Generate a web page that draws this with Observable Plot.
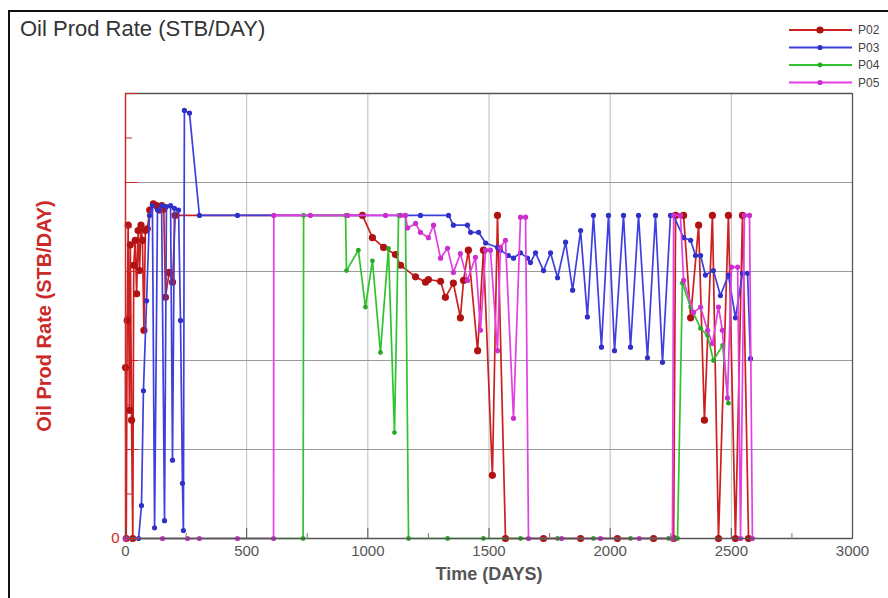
<!DOCTYPE html>
<html><head><meta charset="utf-8">
<script src="https://cdn.jsdelivr.net/npm/d3@7"></script>
<script src="https://cdn.jsdelivr.net/npm/@observablehq/plot@0.6"></script>
<style>
body{margin:0;background:#fff;font-family:"Liberation Sans",Arial,sans-serif;}
#page{position:relative;width:888px;height:598px;overflow:hidden;background:#fff;}
#border{position:absolute;left:8px;top:10px;width:900px;height:620px;border-left:2px solid #111;border-top:2px solid #111;pointer-events:none;}
#header{position:relative;height:90px;}
#title{position:absolute;left:20px;top:18px;font-size:22px;line-height:22px;color:#333;white-space:nowrap;}
#legend{position:absolute;left:780px;top:19px;}
</style></head>
<body><div id="page"><div id="border"></div><div id="header"><div id="title">Oil Prod Rate (STB/DAY)</div><svg id="legend" width="108" height="72"></svg></div><div id="chart"></div></div>
<script>
// ---- data (Time in DAYS, Oil Prod Rate in STB/DAY) ----
const wellNames = ["P02", "P03", "P04", "P05"];

const p02Days  = [0,3,7,11,16,20,25,30,34,40,46,52,58,64,70,76,82,90,100,115,128,140,150,158,165,180,194,205,978,1019,1065,1114,1135,1197,1238,1250,1300,1320,1353,1382,1395,1415,1453,1477,1514,1535,1568,1725,1878,2030,2179,2262,2270,2303,2332,2365,2389,2422,2447,2488,2517,2546,2571];
const p02Rates = [1920,0,2450,3520,1440,3300,1330,0,3070,3350,2750,3460,3010,3520,3350,2340,3460,3480,3690,3760,3740,3690,3740,3700,2710,2990,2880,3630,3630,3380,3270,3190,3070,2940,2880,2910,2890,2710,2870,2480,2900,3240,2110,3240,710,3630,0,0,0,0,0,0,3630,3630,2480,3520,1330,3630,0,3630,0,3630,0];

const p03Days  = [0,54,66,74,87,99,111,120,132,149,161,169,186,194,202,219,227,235,239,243,264,305,462,1217,1333,1353,1411,1424,1457,1486,1535,1547,1580,1601,1630,1659,1671,1692,1725,1754,1783,1816,1845,1878,1906,1931,1964,1993,2018,2055,2084,2117,2154,2187,2216,2249,2261,2303,2332,2352,2373,2393,2426,2455,2488,2517,2546,2567,2579];
const p03Rates = [0,0,370,1660,2670,3630,3740,120,3690,3740,200,3730,3740,880,3710,3690,2450,620,90,4810,4780,3630,3630,3630,3630,3520,3520,3440,3440,3320,3270,3240,3180,3150,3210,3150,3100,3210,3010,3210,2930,3330,2790,3460,2490,3630,2150,3630,2110,3630,2150,3630,2030,3630,1980,3630,3630,3380,3350,3180,3180,2960,3010,2730,2960,2480,2980,2980,2020];

const p04Days  = [0,733,735,908,912,961,990,1019,1052,1085,1110,1127,1155,1168,1329,1477,1630,1783,1931,2084,2241,2278,2298,2332,2373,2402,2426,2464,2488];
const p04Rates = [0,0,3630,3630,3010,3240,2600,3120,2090,3260,1190,3630,3630,0,0,0,0,0,0,0,0,0,2870,2600,2360,2280,2000,2170,1520];

const p05Days  = [0,153,256,305,462,611,612,763,916,1073,1135,1155,1164,1197,1217,1250,1271,1300,1329,1353,1382,1411,1444,1465,1486,1506,1535,1547,1568,1601,1630,1651,1663,1800,1960,2120,2257,2262,2290,2303,2344,2373,2402,2422,2447,2463,2484,2501,2526,2538,2554,2575,2587];
const p05Rates = [0,0,0,0,0,0,3630,3630,3630,3630,3630,3630,3490,3540,3440,3380,3520,3150,3260,2990,3200,2900,3160,2340,3240,3240,2110,3270,3350,1350,3610,3610,0,0,0,0,0,3630,3630,2900,2540,2600,2340,2190,2600,2340,1580,3050,3050,0,3630,3630,0];

const xTickLabels = [0, 500, 1000, 1500, 2000, 2500, 3000];
const xMinorTicks = [250, 750, 1250, 1750, 2250, 2750];
const yMajorTicks = [0, 1000, 2000, 3000, 4000, 5000];
const yMinorTicks = [500, 1500, 2500, 3500, 4500];
const yTickLabels = [0];
const titleText = "Oil Prod Rate (STB/DAY)";
const xLabelText = "Time (DAYS)";
const yLabelText = "Oil Prod Rate (STB/DAY)";

// ---- styles ----
const wellColors = {P02: "#cc1f1f", P03: "#3f3fe0", P04: "#2fc42f", P05: "#e43fe4"};
const wellDotColors = {P02: "#b01212", P03: "#3030c8", P04: "#22aa22", P05: "#cc30cc"};
const wellDotR = {P02: 3.6, P03: 2.6, P04: 2.4, P05: 2.6};
const axisRed = "#cc2a2a";

const seriesData = {
  P02: p02Days.map((d, i) => ({well: "P02", day: d, rate: p02Rates[i]})),
  P03: p03Days.map((d, i) => ({well: "P03", day: d, rate: p03Rates[i]})),
  P04: p04Days.map((d, i) => ({well: "P04", day: d, rate: p04Rates[i]})),
  P05: p05Days.map((d, i) => ({well: "P05", day: d, rate: p05Rates[i]}))
};

const tickShape = {draw(context, l) { context.moveTo(0, 0); context.lineTo(0, -l); }};

const seriesMarks = wellNames.flatMap(w => [
  Plot.line(seriesData[w], {x: "day", y: "rate", stroke: wellColors[w], strokeWidth: 1.7}),
  Plot.dot(seriesData[w], {x: "day", y: "rate", r: wellDotR[w], fill: wellDotColors[w], stroke: "none"})
]);

const chart = Plot.plot({
  width: 888, height: 508,
  marginTop: 3, marginBottom: 60, marginLeft: 125, marginRight: 36,
  x: {domain: [0, 3000]},
  y: {domain: [0, 5000]},
  style: {fontFamily: "'Liberation Sans', Arial, sans-serif", background: "transparent", overflow: "visible"},
  marks: [
    Plot.ruleX(xTickLabels.slice(1, -1), {stroke: "#bdbdbd", strokeWidth: 1}),
    Plot.ruleY(yMajorTicks.slice(1, -1), {stroke: "#9a9a9a", strokeWidth: 1}),
    Plot.ruleY([yMajorTicks[yMajorTicks.length - 1]], {stroke: "#555", strokeWidth: 1.3}),
    Plot.ruleX([xTickLabels[xTickLabels.length - 1]], {stroke: "#555", strokeWidth: 1.3}),
    ...seriesMarks,
    Plot.ruleY([0], {stroke: "#555", strokeWidth: 1.6}),
    Plot.ruleX([0], {stroke: axisRed, strokeWidth: 1.5}),
    Plot.vector(yMajorTicks, {x: () => 0, y: d => d, length: 12, rotate: 90, anchor: "start", shape: tickShape, stroke: axisRed, strokeWidth: 1}),
    Plot.vector(yMinorTicks, {x: () => 0, y: d => d, length: 6, rotate: 90, anchor: "start", shape: tickShape, stroke: axisRed, strokeWidth: 1}),
    Plot.vector(xTickLabels, {x: d => d, y: () => 0, length: 10, rotate: 0, anchor: "start", shape: tickShape, stroke: "#555", strokeWidth: 1}),
    Plot.vector(xMinorTicks, {x: d => d, y: () => 0, length: 5, rotate: 0, anchor: "start", shape: tickShape, stroke: "#777", strokeWidth: 1}),
    Plot.axisX({ticks: xTickLabels, tickSize: 0, tickPadding: 7, fontSize: 15, color: "#555", label: null, tickFormat: d => String(d)}),
    Plot.axisY({ticks: yTickLabels, tickSize: 0, tickPadding: 6, fontSize: 15, color: axisRed, label: null, tickFormat: d => String(d)}),
    Plot.text([xLabelText], {frameAnchor: "bottom", dy: 41, fontSize: 18, fontWeight: "bold", fill: "#555"}),
    Plot.text([yLabelText], {frameAnchor: "left", dx: -81, rotate: -90, textAnchor: "middle", fontSize: 20, fontWeight: "bold", fill: axisRed})
  ]
});
document.getElementById("chart").appendChild(chart);
document.getElementById("title").textContent = titleText;

// ---- legend ----
const leg = d3.select("#legend");
wellNames.forEach((w, i) => {
  const y = 11 + i * 17.5;
  leg.append("line").attr("x1", 9).attr("x2", 72).attr("y1", y).attr("y2", y)
    .attr("stroke", wellColors[w]).attr("stroke-width", 2);
  leg.append("circle").attr("cx", 40).attr("cy", y).attr("r", wellDotR[w]).attr("fill", wellDotColors[w]);
  leg.append("text").attr("x", 78).attr("y", y).attr("dy", "0.35em")
    .attr("font-size", 12).attr("fill", "#444").attr("font-family", "'Liberation Sans', Arial, sans-serif").text(w);
});
</script>
</body></html>
